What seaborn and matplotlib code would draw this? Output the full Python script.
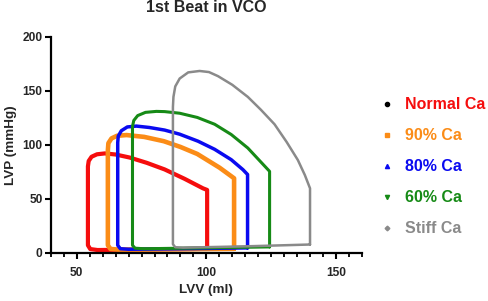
import matplotlib
matplotlib.use("Agg")
import matplotlib.pyplot as plt
from matplotlib.lines import Line2D
from matplotlib.ticker import MultipleLocator
import seaborn as sns
import pandas as pd

sns.set_theme(style="white")
plt.rcParams['font.family'] = ['Liberation Sans', 'DejaVu Sans']

labels = ["Normal Ca", "90% Ca", "80% Ca", "60% Ca", "Stiff Ca"]

normal_v = [100.3, 100.3, 98.7, 91.6, 83.9, 77.0, 70.4, 65.0, 60.8, 57.8, 55.7, 54.6, 54.3, 54.3, 55.2, 58.0, 70.0, 85.0, 100.3]
normal_p = [3.7, 58.2, 59.7, 68.5, 77.2, 83.3, 88.2, 91.0, 92.0, 91.2, 88.9, 85.0, 80.0, 7.0, 3.5, 2.6, 2.9, 3.3, 3.7]

ca90_v = [110.7, 110.7, 105.1, 96.5, 90.0, 83.6, 76.0, 69.2, 65.5, 63.4, 62.2, 62.0, 62.0, 63.0, 66.0, 90.0, 110.7]
ca90_p = [3.7, 69.0, 78.8, 91.5, 98.0, 103.3, 107.3, 109.0, 108.3, 105.9, 101.5, 95.0, 7.0, 3.6, 3.0, 3.3, 3.7]

ca80_v = [115.9, 115.9, 114.1, 109.6, 103.2, 96.8, 89.7, 83.9, 78.0, 73.0, 69.5, 67.2, 66.0, 65.8, 65.8, 66.8, 70.0, 95.0, 115.9]
ca80_p = [4.6, 72.5, 77.0, 86.2, 95.8, 103.3, 109.8, 113.6, 116.0, 117.3, 116.5, 113.0, 108.0, 102.0, 7.0, 3.8, 3.3, 3.9, 4.6]

ca60_v = [124.4, 124.4, 116.0, 109.6, 103.2, 96.5, 89.7, 83.9, 80.7, 76.5, 73.5, 72.0, 71.5, 71.5, 72.5, 76.0, 100.0, 124.4]
ca60_p = [5.5, 75.4, 97.0, 109.5, 119.0, 125.3, 129.2, 130.7, 130.9, 130.0, 127.0, 122.5, 117.0, 7.0, 4.3, 3.8, 4.6, 5.5]

stiff_v = [140.0, 140.0, 138.0, 135.3, 131.0, 126.3, 121.0, 116.0, 110.0, 104.5, 101.0, 97.4, 93.0, 89.7, 88.0, 87.3, 87.1, 87.1, 88.0, 91.0, 115.0, 140.0]
stiff_p = [7.7, 59.7, 72.0, 85.9, 102.5, 119.0, 132.5, 144.3, 155.5, 163.5, 167.3, 168.3, 167.0, 161.3, 154.0, 144.3, 135.0, 8.0, 5.2, 4.8, 6.0, 7.7]

x_ticks = [50, 100, 150]
y_ticks = [0, 50, 100, 150, 200]

colors = ["#f50d0d", "#fb8c17", "#0a0af0", "#168a16", "#8a8a8a"]
widths = [3.0, 3.3, 2.5, 2.2, 1.8]
markers = ["o", "s", "^", "v", "D"]
marker_colors = ["#000000", "#fb8c17", "#0a0af0", "#168a16", "#8a8a8a"]
marker_sizes = [3.0, 3.0, 3.0, 3.0, 2.4]

series = [(normal_v, normal_p), (ca90_v, ca90_p), (ca80_v, ca80_p),
          (ca60_v, ca60_p), (stiff_v, stiff_p)]

frames = []
for lab, (v, p) in zip(labels, series):
    frames.append(pd.DataFrame({"LVV": v, "LVP": p, "group": lab}))
df = pd.concat(frames, ignore_index=True)

fig = plt.figure(figsize=(4.89, 3.01), dpi=100)
ax = fig.add_axes([0.104, 0.16, 0.636, 0.718])

for lab, col, lw in zip(labels, colors, widths):
    sub = df[df["group"] == lab]
    sns.lineplot(data=sub, x="LVV", y="LVP", sort=False, estimator=None,
                 color=col, linewidth=lw, ax=ax, legend=False)
for line in ax.lines:
    line.set_solid_joinstyle("round")
    line.set_solid_capstyle("round")

ax.set_xlim(40, 160)
ax.set_ylim(0, 200)
ax.set_xticks(x_ticks)
ax.set_yticks(y_ticks)
ax.xaxis.set_minor_locator(MultipleLocator(5))
ax.tick_params(axis="both", which="major", direction="out", length=4, width=1.5,
               labelsize=8.6, color="black", pad=2, bottom=True, left=True)
ax.tick_params(axis="x", which="minor", direction="out", length=3, width=1.3,
               color="black", bottom=True)
ax.tick_params(axis="x", pad=6)
for lbl in ax.get_xticklabels() + ax.get_yticklabels():
    lbl.set_fontweight("bold")
for s in ["top", "right"]:
    ax.spines[s].set_visible(False)
for s in ["left", "bottom"]:
    ax.spines[s].set_linewidth(1.6)
    ax.spines[s].set_color("black")

ax.set_xlabel("LVV (ml)", fontsize=9.7, fontweight="bold", labelpad=4)
ax.set_ylabel("LVP (mmHg)", fontsize=9.7, fontweight="bold", labelpad=4)
ax.set_title("1st Beat in VCO", fontsize=11.5, fontweight="bold", pad=18)

handles = [Line2D([0], [0], linestyle="none", marker=m, color=mc, markersize=ms)
           for m, mc, ms in zip(markers, marker_colors, marker_sizes)]
leg = fig.legend(handles, labels, loc="upper left", bbox_to_anchor=(0.775, 0.677),
                 frameon=False, fontsize=11.5, handlelength=1.0, handletextpad=0.6,
                 labelspacing=1.0, borderpad=0, borderaxespad=0)
for txt, col in zip(leg.get_texts(), colors):
    txt.set_color(col)
    txt.set_fontweight("bold")

fig.savefig("out.png", dpi=100)
